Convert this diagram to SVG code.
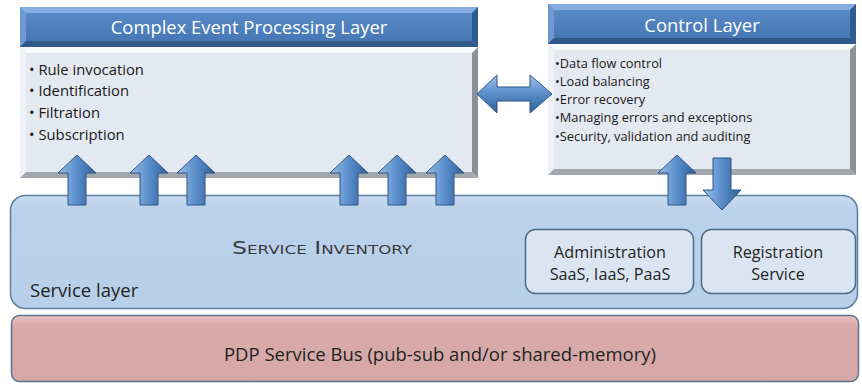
<svg xmlns="http://www.w3.org/2000/svg" xmlns:xlink="http://www.w3.org/1999/xlink" width="862" height="384" viewBox="0 0 862 384">
  <style>
    .hdr-face { fill: url(#hdrGrad); }
    .hdr-top { fill: #86aee0; }
    .hdr-left { fill: #6e9ad2; }
    .hdr-right { fill: #2e5c91; }
    .hdr-bot { fill: #30598a; }
    .body-face { fill: #e3e8f1; }
    .body-top { fill: #f7f9fc; }
    .body-left { fill: #eef1f6; }
    .body-right { fill: #8b9099; }
    .body-bot { fill: #a3a8b0; }
    .title { font-family: "Open Sans", "Liberation Sans", sans-serif; font-size: 18.4px; fill: #ffffff; text-anchor: middle; }
    .bullet { font-family: "Open Sans", "Liberation Sans", sans-serif; font-size: 14.8px; fill: #1a1a1a; }
    .bullet-s { font-family: "Open Sans", "Liberation Sans", sans-serif; font-size: 12.8px; fill: #1a1a1a; }
    .lbl { font-family: "Open Sans", "Liberation Sans", sans-serif; fill: #1f1f1f; }
    .arrow-v { fill: url(#arrowV); stroke: #2b5587; stroke-width: 1; }
    .arrow-h { fill: url(#arrowH); stroke: #2b5587; stroke-width: 1; }
  </style>
  <defs>
    <linearGradient id="hdrGrad" x1="0" y1="0" x2="0" y2="1">
      <stop offset="0" stop-color="#5a8dcb"/>
      <stop offset="1" stop-color="#4474b1"/>
    </linearGradient>
    <linearGradient id="arrowV" x1="0" y1="0" x2="1" y2="0">
      <stop offset="0" stop-color="#9ec2ea"/>
      <stop offset="0.45" stop-color="#5e92cf"/>
      <stop offset="1" stop-color="#2f5f98"/>
    </linearGradient>
    <linearGradient id="arrowH" x1="0" y1="0" x2="0" y2="1">
      <stop offset="0" stop-color="#9ec2ea"/>
      <stop offset="0.45" stop-color="#5e92cf"/>
      <stop offset="1" stop-color="#2f5f98"/>
    </linearGradient>
    <linearGradient id="svcGrad" x1="0" y1="0" x2="0" y2="1">
      <stop offset="0" stop-color="#c9dcef"/>
      <stop offset="0.12" stop-color="#b9d1ea"/>
      <stop offset="1" stop-color="#b7cfe8"/>
    </linearGradient>
    <linearGradient id="busGrad" x1="0" y1="0" x2="0" y2="1">
      <stop offset="0" stop-color="#e8c2c2"/>
      <stop offset="0.15" stop-color="#d9aaaa"/>
      <stop offset="1" stop-color="#d6a7a7"/>
    </linearGradient>
    <path id="upArrow" d="M0,0 L19,18 L9,18 L9,50 L-9,50 L-9,18 L-19,18 Z"/>
    <path id="downArrow" d="M-9,0 L9,0 L9,32 L19,32 L0,52 L-19,32 L-9,32 Z"/>
  </defs>

  <rect width="862" height="384" fill="#ffffff"/>

  <!-- Complex Event Processing layer: bevelled header and body -->
  <g id="cep-layer">
    <rect class="body-face" x="20" y="47" width="458" height="131"/>
    <polygon class="body-top" points="20,47 478,47 472,53 26,53"/>
    <polygon class="body-left" points="20,47 26,53 26,172 20,178"/>
    <polygon class="body-right" points="478,47 478,178 472,172 472,53"/>
    <polygon class="body-bot" points="20,178 478,178 472,172 26,172"/>
    <rect class="hdr-face" x="20" y="7" width="458" height="40"/>
    <polygon class="hdr-top" points="20,7 478,7 472,13 26,13"/>
    <polygon class="hdr-left" points="20,7 26,13 26,41 20,47"/>
    <polygon class="hdr-right" points="478,7 478,47 472,41 472,13"/>
    <polygon class="hdr-bot" points="20,47 478,47 472,41 26,41"/>
    <text class="title" x="249" y="34">Complex Event Processing Layer</text>
    <text class="bullet" x="29" y="75">• Rule invocation</text>
    <text class="bullet" x="29" y="96">• Identification</text>
    <text class="bullet" x="29" y="118">• Filtration</text>
    <text class="bullet" x="29" y="140">• Subscription</text>
  </g>

  <!-- Control layer -->
  <g id="control-layer">
    <rect class="body-face" x="548" y="44" width="308" height="131"/>
    <polygon class="body-top" points="548,44 856,44 850,50 554,50"/>
    <polygon class="body-left" points="548,44 554,50 554,169 548,175"/>
    <polygon class="body-right" points="856,44 856,175 850,169 850,50"/>
    <polygon class="body-bot" points="548,175 856,175 850,169 554,169"/>
    <rect class="hdr-face" x="548" y="4" width="308" height="40"/>
    <polygon class="hdr-top" points="548,4 856,4 850,10 554,10"/>
    <polygon class="hdr-left" points="548,4 554,10 554,38 548,44"/>
    <polygon class="hdr-right" points="856,4 856,44 850,38 850,10"/>
    <polygon class="hdr-bot" points="548,44 856,44 850,38 554,38"/>
    <text class="title" x="702" y="32">Control Layer</text>
    <text class="bullet-s" x="555" y="68">•Data flow control</text>
    <text class="bullet-s" x="555" y="86">•Load balancing</text>
    <text class="bullet-s" x="555" y="104">•Error recovery</text>
    <text class="bullet-s" x="555" y="122">•Managing errors and exceptions</text>
    <text class="bullet-s" x="555" y="141">•Security, validation and auditing</text>
  </g>

  <!-- Service layer with its inventory and sub-services -->
  <g id="service-layer">
    <rect x="10.5" y="195.5" width="847" height="113" rx="15" ry="15" fill="url(#svcGrad)" stroke="#5b7fa4" stroke-width="1.5"/>
    <text x="232" y="254" font-family="'DejaVu Sans', 'Liberation Sans', sans-serif" font-size="17" font-variant="small-caps" textLength="180" lengthAdjust="spacingAndGlyphs" fill="#3a3a3a">Service Inventory</text>
    <text class="lbl" x="30" y="297" font-size="18.5">Service layer</text>
  </g>

  <g id="administration">
    <rect x="525.5" y="229.5" width="168" height="64" rx="10" ry="10" fill="#dbe5f1" stroke="#4c6c8e" stroke-width="1.5"/>
    <text class="lbl" x="610" y="258" font-size="16.2" text-anchor="middle">Administration</text>
    <text class="lbl" x="610" y="280" font-size="16.2" text-anchor="middle">SaaS, IaaS, PaaS</text>
  </g>

  <g id="registration">
    <rect x="701.5" y="229.5" width="154" height="64" rx="10" ry="10" fill="#dbe5f1" stroke="#4c6c8e" stroke-width="1.5"/>
    <text class="lbl" x="778" y="258" font-size="16.2" text-anchor="middle">Registration</text>
    <text class="lbl" x="778" y="280" font-size="16.2" text-anchor="middle">Service</text>
  </g>

  <!-- Service bus -->
  <g id="service-bus">
    <rect x="11.5" y="315.5" width="847" height="66" rx="8" ry="8" fill="url(#busGrad)" stroke="#5b7590" stroke-width="1.5"/>
    <text class="lbl" x="440" y="361" font-size="18.5" text-anchor="middle">PDP Service Bus (pub-sub and/or shared-memory)</text>
  </g>

  <!-- Connectors: block arrows between layers -->
  <g id="connectors">
    <use href="#upArrow" xlink:href="#upArrow" class="arrow-v" x="77" y="155"/>
    <use href="#upArrow" xlink:href="#upArrow" class="arrow-v" x="149" y="155"/>
    <use href="#upArrow" xlink:href="#upArrow" class="arrow-v" x="196" y="155"/>
    <use href="#upArrow" xlink:href="#upArrow" class="arrow-v" x="349" y="155"/>
    <use href="#upArrow" xlink:href="#upArrow" class="arrow-v" x="397" y="155"/>
    <use href="#upArrow" xlink:href="#upArrow" class="arrow-v" x="445" y="155"/>
    <use href="#upArrow" xlink:href="#upArrow" class="arrow-v" x="677" y="155"/>
    <use href="#downArrow" xlink:href="#downArrow" class="arrow-v" x="722" y="158"/>
    <path class="arrow-h" d="M477,94 L497,75 L497,87 L530,87 L530,75 L552,94 L530,113 L530,101 L497,101 L497,113 Z"/>
  </g>
</svg>
